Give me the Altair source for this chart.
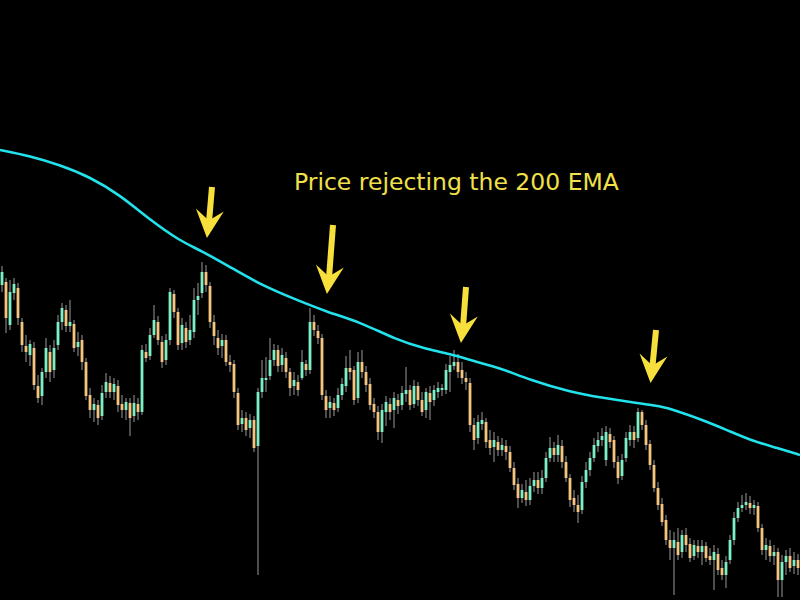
import altair as alt
import pandas as pd

# Candle levels (inverted price axis: smaller = higher)
opens = [285,282,325,293,288,322,346,355,348,386,396,372,352,370,345,322,310,326,324,347,
         340,362,395,410,405,416,392,383,392,386,404,410,403,416,404,412,352,356,335,322,
         342,360,340,294,312,343,328,340,332,300,293,272,286,322,338,346,340,362,364,393,
         424,418,428,420,446,392,380,376,360,350,365,358,372,386,382,378,364,370,322,331,
         338,396,408,403,408,395,386,368,370,398,362,372,384,404,412,432,412,404,410,400,
         405,394,390,404,386,400,410,393,400,392,390,390,372,366,362,370,378,383,425,438,
         424,422,440,447,442,450,446,452,468,484,498,492,500,486,480,488,478,458,448,455,
         446,462,478,498,505,510,482,470,458,446,440,460,434,440,462,476,458,440,432,438,
         412,425,444,465,488,504,520,540,548,542,552,535,544,556,546,552,546,556,560,554,
         568,575,560,540,518,508,505,503,508,506,528,550,546,556,552,580,562,556,566,560]
closes = [272,318,292,284,318,345,352,344,385,398,372,348,372,348,322,308,326,322,348,342,
          362,396,410,404,418,393,382,392,384,405,410,402,418,403,412,350,358,335,320,340,
          362,340,292,312,345,325,342,330,300,296,272,285,322,336,348,340,362,365,392,425,
          418,430,420,448,392,378,378,360,350,366,355,372,388,380,390,362,370,322,330,338,
          395,410,402,410,395,384,368,372,400,362,372,385,405,412,432,410,402,412,398,406,
          393,390,405,386,400,412,392,402,390,388,388,370,365,362,372,378,382,425,440,422,
          420,442,448,440,450,445,452,468,485,498,490,500,486,480,488,478,458,448,455,445,
          462,478,500,505,512,482,470,458,445,440,436,432,442,462,478,460,438,432,440,412,
          425,445,465,488,505,522,540,548,540,555,535,545,558,545,552,546,558,560,552,570,
          575,562,540,518,508,505,502,508,505,528,550,545,556,552,580,562,556,568,560,568]
highs = [266,278,280,278,283,318,335,340,342,375,368,338,345,340,315,303,305,300,320,332,
         335,358,388,398,400,385,373,376,378,380,395,398,398,395,398,345,344,328,305,316,
         336,334,288,290,308,318,322,315,288,283,262,265,282,315,330,334,335,355,360,388,
         410,412,414,416,388,360,357,338,344,345,348,352,368,372,375,350,360,308,315,325,
         334,390,396,398,388,378,356,350,366,352,350,366,378,398,406,404,396,398,392,394,
         386,367,385,380,382,392,388,386,385,382,384,364,356,350,354,362,372,378,418,415,
         412,418,430,432,436,438,440,446,462,478,484,480,478,472,472,470,452,437,442,435,
         440,456,474,490,495,476,462,452,438,432,428,426,428,436,456,454,432,425,426,408,
         410,420,440,460,482,498,515,530,532,528,530,528,538,540,540,540,542,548,545,548,
         560,556,535,512,502,495,493,496,500,502,524,538,540,545,548,555,550,548,552,554]
lows = [292,333,330,300,325,352,362,366,390,403,405,378,382,378,350,330,332,332,352,356,
        370,400,418,422,425,420,398,398,400,412,418,420,436,422,420,415,362,360,338,345,
        368,365,345,318,350,350,348,345,338,315,298,292,328,345,355,358,366,372,398,430,
        432,436,438,452,575,398,392,380,366,372,372,378,396,395,396,380,376,374,336,344,
        400,418,418,416,412,400,392,380,405,403,378,392,410,418,440,443,426,420,428,414,
        410,402,410,408,406,416,418,420,406,398,396,394,392,370,378,384,390,432,450,444,
        430,448,455,462,456,456,460,472,490,508,503,506,505,492,494,494,482,462,462,462,
        468,482,507,512,523,514,488,476,462,452,446,466,448,468,484,480,462,446,448,442,
        430,450,470,492,510,526,545,560,595,560,558,552,562,560,558,565,562,565,590,575,
        580,588,564,545,522,512,510,514,515,532,555,560,562,565,597,597,575,572,574,575]

# 200 EMA samples (candle position, level)
ema_pos = [-0.5, 7, 14.5, 22, 29.5, 37, 44.5, 49.5, 57, 65.25, 73.75, 81.25, 89.5, 98.75,
           105.25, 112, 118.75, 124.5, 132, 142, 150.25, 158.75, 164.5, 168.75, 174.5,
           181.25, 187, 193.75, 199.5]
ema_val = [150, 156, 165, 177, 195, 220, 241, 250, 267, 286, 300, 312, 322, 340,
           348, 354, 362, 368, 380, 392, 398, 403, 406, 411, 419, 430, 440, 448, 455]

# Arrow annotations
arrow_top_x = [52.5, 82.75, 116, 163.5]
arrow_top_y = [187, 225, 287, 330]
arrow_end_x = [51.75, 81.75, 115.25, 162.6]
arrow_end_y = [222, 278, 327, 367]
arrow_head_x = [51.6, 81.6, 115.1, 162.5]
arrow_head_y = [224, 280, 329, 369]

label_text = ["Price rejecting the 200 EMA"]
label_x = [73.0]
label_y = [190]

N = len(opens)
df = pd.DataFrame({"i": list(range(N)), "open": opens, "close": closes,
                   "high": highs, "low": lows})
df["dir"] = ["up" if c < o else "down" for o, c in zip(opens, closes)]
ema_df = pd.DataFrame({"pos": ema_pos, "ema": ema_val})
arr_df = pd.DataFrame({"x0": arrow_top_x, "y0": arrow_top_y, "x1": arrow_end_x,
                       "y1": arrow_end_y, "hx": arrow_head_x, "hy": arrow_head_y})
txt_df = pd.DataFrame({"x": label_x, "y": label_y, "t": label_text})

xs = alt.Scale(domain=[-0.5, N - 0.5], nice=False, zero=False)
ys = alt.Scale(domain=[0, 600], reverse=True, nice=False, zero=False)

BULL = "#7DEFC6"
BEAR = "#F5C47E"
YEL = "#F7E03C"

wicks = alt.Chart(df).mark_rule(strokeWidth=1, color="#9a9a9a").encode(
    x=alt.X("i:Q", scale=xs, axis=None),
    y=alt.Y("low:Q", scale=ys, axis=None),
    y2="high:Q",
)
bodies = alt.Chart(df).mark_rule(strokeWidth=2.8, strokeCap="butt").encode(
    x=alt.X("i:Q", scale=xs, axis=None),
    y=alt.Y("open:Q", scale=ys, axis=None),
    y2="close:Q",
    color=alt.Color("dir:N", scale=alt.Scale(domain=["up", "down"], range=[BULL, BEAR]),
                    legend=None),
)
ema = alt.Chart(ema_df).mark_line(color="#22E2EC", strokeWidth=2.6,
                                  interpolate="basis").encode(
    x=alt.X("pos:Q", scale=xs, axis=None),
    y=alt.Y("ema:Q", scale=ys, axis=None),
)
shafts = alt.Chart(arr_df).mark_rule(strokeWidth=6, color=YEL, strokeCap="butt").encode(
    x=alt.X("x0:Q", scale=xs, axis=None),
    y=alt.Y("y0:Q", scale=ys, axis=None),
    x2="x1:Q",
    y2="y1:Q",
)
heads = alt.Chart(arr_df).mark_point(
    shape="M0,1 L-1,-1 L0,-0.25 L1,-1 Z", size=784, filled=True, color=YEL,
    opacity=1, strokeWidth=0, angle=6,
).encode(
    x=alt.X("hx:Q", scale=xs, axis=None),
    y=alt.Y("hy:Q", scale=ys, axis=None),
)
label = alt.Chart(txt_df).mark_text(
    font="DejaVu Sans", fontSize=23.5, color="#F2E04A", align="left",
    baseline="alphabetic",
).encode(
    x=alt.X("x:Q", scale=xs, axis=None),
    y=alt.Y("y:Q", scale=ys, axis=None),
    text="t:N",
)

chart = alt.layer(wicks, bodies, ema, shafts, heads, label).properties(
    width=800, height=600, background="black", padding=0,
    autosize=alt.AutoSizeParams(type="none"),
).configure_view(strokeWidth=0)

chart.save("out.html", embed_options={"renderer": "svg", "actions": False})
